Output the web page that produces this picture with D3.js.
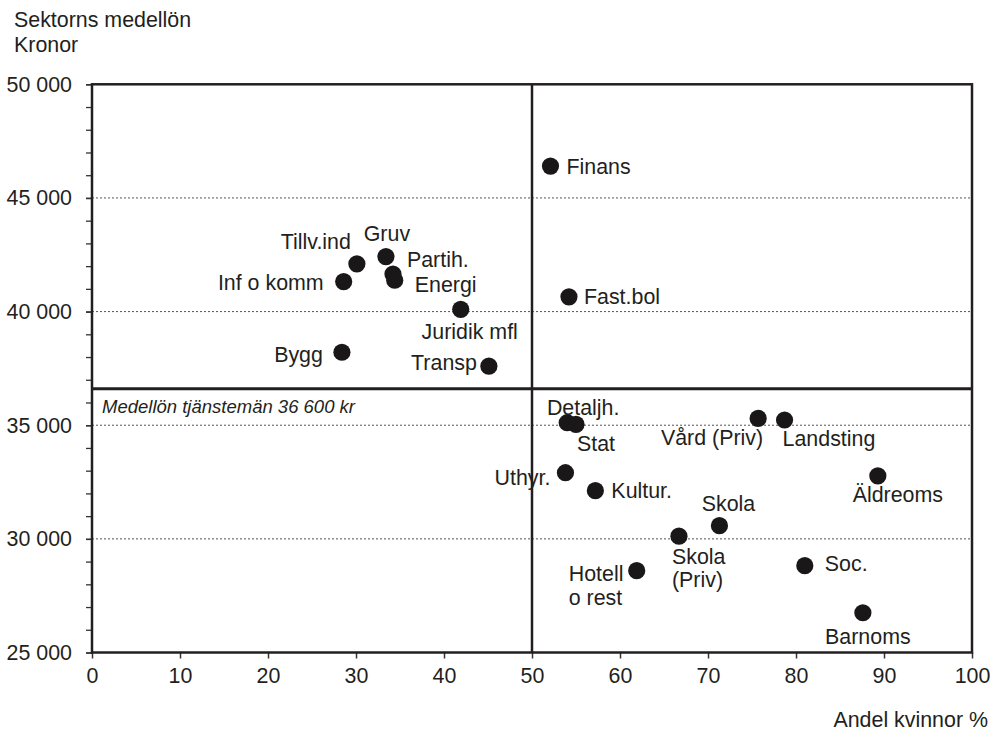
<!DOCTYPE html>
<html>
<head>
<meta charset="utf-8">
<script src="https://cdn.jsdelivr.net/npm/d3@7"></script>
<style>
  html, body { margin: 0; padding: 0; background: #fff; }
  svg { display: block; font-family: "Liberation Sans", Arial, sans-serif; }
</style>
</head>
<body>
<svg id="chart" width="995" height="731"></svg>
<script>
// ---- Data ----
const sectors = ["Finans", "Fast.bol", "Juridik mfl", "Transp", "Tillv.ind", "Gruv", "Partih.", "Energi",
  "Inf o komm", "Bygg", "Detaljh.", "Stat", "Uthyr.", "Kultur.", "Skola", "Skola\n(Priv)", "Hotell\no rest",
  "Vård (Priv)", "Landsting", "Äldreoms", "Soc.", "Barnoms"];
const womenShare = [52.1, 54.2, 41.9, 45.1, 30.1, 33.4, 34.2, 34.4,
  28.6, 28.4, 54.0, 55.0, 53.8, 57.2, 71.3, 66.7, 61.9,
  75.7, 78.7, 89.3, 81.0, 87.6];
const avgSalary = [46400, 40650, 40100, 37600, 42100, 42420, 41650, 41380,
  41320, 38210, 35110, 35040, 32910, 32120, 30580, 30120, 28600,
  35300, 35230, 32770, 28820, 26750];
const xTicks = [0, 10, 20, 30, 40, 50, 60, 70, 80, 90, 100];
const yTicks = [25000, 30000, 35000, 40000, 45000, 50000];
const yMinorTicks = d3.range(25000, 50001, 1000);
const gridValues = [30000, 35000, 40000, 45000];
const referenceSalary = 36600;
const referenceShare = 50;
const referenceText = "Medellön tjänstemän 36 600 kr";
const yTitle = ["Sektorns medellön", "Kronor"];
const xTitle = "Andel kvinnor %";

// label placement (styling, relative to each dot)
const labelPlace = [
  {a: "start", dx: 16, dy: 0}, {a: "start", dx: 15, dy: 0}, {a: "middle", dx: 9, dy: 22},
  {a: "end", dx: -12, dy: -4}, {a: "end", dx: -6, dy: -22}, {a: "middle", dx: 1, dy: -23},
  {a: "start", dx: 14, dy: -15}, {a: "start", dx: 20, dy: 4}, {a: "end", dx: -20, dy: 1},
  {a: "end", dx: -19, dy: 2}, {a: "middle", dx: 16, dy: -15}, {a: "middle", dx: 20, dy: 19},
  {a: "end", dx: -15, dy: 5}, {a: "start", dx: 16, dy: 0}, {a: "middle", dx: 9, dy: -22},
  {a: "start", dx: -7, dy: 20}, {a: "start", dx: -68, dy: 3}, {a: "end", dx: 5, dy: 19},
  {a: "start", dx: -2, dy: 19}, {a: "middle", dx: 20, dy: 19}, {a: "start", dx: 20, dy: -2},
  {a: "middle", dx: 5, dy: 24}
];

// ---- Layout ----
const svg = d3.select("#chart");
const mLeft = 92, mRight = 972, mTop = 84.3, mBottom = 652.5;
const textColor = "#231f20";
const fontSize = 21.4;

const x = d3.scaleLinear().domain([0, 100]).range([mLeft, mRight]);
const y = d3.scaleLinear().domain([25000, 50000]).range([mBottom, mTop]);
const fmt = d3.formatLocale({decimal: ",", thousands: " ", grouping: [3], currency: ["", ""]}).format(",");

// grid lines
svg.append("g").selectAll("line").data(gridValues).join("line")
  .attr("x1", mLeft).attr("x2", mRight)
  .attr("y1", d => y(d)).attr("y2", d => y(d))
  .attr("stroke", "#555").attr("stroke-width", 1).attr("stroke-dasharray", "2,2");

// Y axis (major + minor ticks)
const yAxisMinor = d3.axisLeft(y).tickValues(yMinorTicks).tickSize(6).tickFormat("");
svg.append("g").attr("transform", `translate(${mLeft},0)`).call(yAxisMinor)
  .call(g => g.select(".domain").remove())
  .call(g => g.selectAll("line").attr("stroke", "#333").attr("stroke-width", 1.3));
const yAxis = d3.axisLeft(y).tickValues(yTicks).tickSize(6).tickPadding(14).tickFormat(fmt);
svg.append("g").attr("transform", `translate(${mLeft},0)`).call(yAxis)
  .call(g => g.select(".domain").remove())
  .call(g => g.selectAll("line").attr("stroke", "#333").attr("stroke-width", 1.5))
  .call(g => g.selectAll("text").attr("font-size", fontSize).attr("fill", textColor)
    .attr("font-family", "'Liberation Sans', Arial, sans-serif"));

// X axis
const xAxis = d3.axisBottom(x).tickValues(xTicks).tickSize(6).tickPadding(9).tickFormat(d3.format("d"));
svg.append("g").attr("transform", `translate(0,${mBottom})`).call(xAxis)
  .call(g => g.select(".domain").remove())
  .call(g => g.selectAll("line").attr("stroke", "#333").attr("stroke-width", 1.5))
  .call(g => g.selectAll("text").attr("font-size", fontSize).attr("fill", textColor)
    .attr("font-family", "'Liberation Sans', Arial, sans-serif"));

// plot frame
svg.append("rect").attr("x", mLeft).attr("y", mTop)
  .attr("width", mRight - mLeft).attr("height", mBottom - mTop)
  .attr("fill", "none").attr("stroke", "#231f20").attr("stroke-width", 2.5);

// quadrant lines
svg.append("line").attr("x1", x(referenceShare)).attr("x2", x(referenceShare))
  .attr("y1", mTop).attr("y2", mBottom).attr("stroke", "#231f20").attr("stroke-width", 2.5);
svg.append("line").attr("x1", mLeft).attr("x2", mRight)
  .attr("y1", y(referenceSalary)).attr("y2", y(referenceSalary))
  .attr("stroke", "#231f20").attr("stroke-width", 3);

// reference annotation
svg.append("text").attr("x", mLeft + 10).attr("y", y(referenceSalary) + 24)
  .attr("font-size", 18.5).attr("font-style", "italic").attr("fill", textColor)
  .text(referenceText);

// dots
const pts = sectors.map((s, i) => ({name: s, share: womenShare[i], salary: avgSalary[i], p: labelPlace[i]}));
svg.append("g").selectAll("circle").data(pts).join("circle")
  .attr("cx", d => x(d.share)).attr("cy", d => y(d.salary)).attr("r", 8.6)
  .attr("fill", "#1a1718");

// labels
const lbl = svg.append("g").selectAll("text").data(pts).join("text")
  .attr("font-size", fontSize).attr("fill", textColor)
  .attr("text-anchor", d => d.p.a)
  .attr("x", d => x(d.share) + d.p.dx)
  .attr("y", d => y(d.salary) + d.p.dy);
lbl.each(function(d) {
  const lines = d.name.split("\n");
  const t = d3.select(this);
  lines.forEach((ln, k) => {
    t.append("tspan").attr("x", x(d.share) + d.p.dx)
      .attr("dy", k === 0 ? "0.35em" : "1.1em").text(ln);
  });
});

// axis titles
svg.append("text").attr("x", 14).attr("y", 27).attr("font-size", fontSize).attr("fill", textColor).text(yTitle[0]);
svg.append("text").attr("x", 14).attr("y", 52).attr("font-size", fontSize).attr("fill", textColor).text(yTitle[1]);
svg.append("text").attr("x", 988).attr("y", 727).attr("text-anchor", "end")
  .attr("font-size", fontSize).attr("fill", textColor).text(xTitle);
</script>
</body>
</html>
